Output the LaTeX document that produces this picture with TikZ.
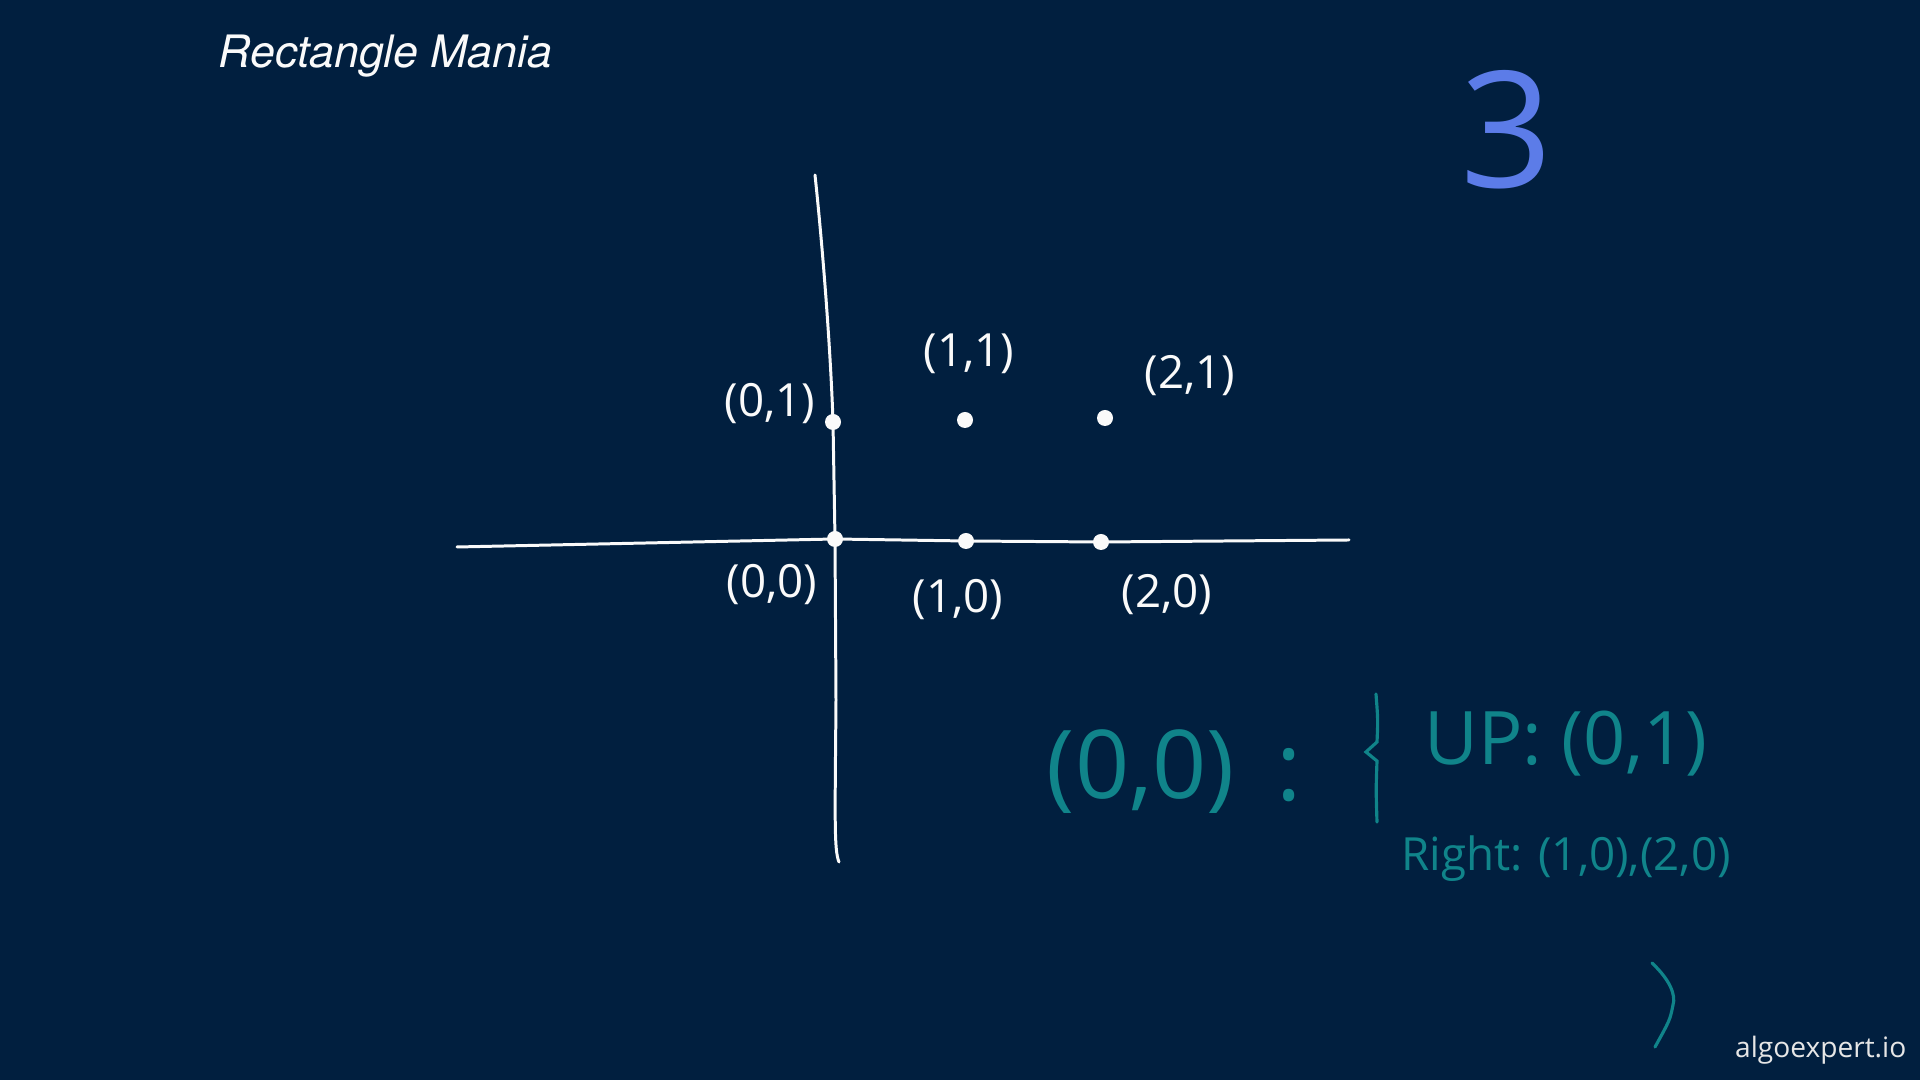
\documentclass[tikz,border=0pt]{standalone}
\usepackage{fontspec}
\setmainfont{Open Sans}
\newfontfamily\heros{TeX Gyre Heros}
\usepackage{tikz}
\usetikzlibrary{calc}
\definecolor{board}{RGB}{1,31,63}
\definecolor{chalk}{RGB}{250,250,250}
\definecolor{tealink}{RGB}{16,132,138}
\definecolor{blueink}{RGB}{92,124,232}
\tikzset{
  axis/.style    ={draw=chalk, line width=0.85pt, line cap=round},
  pt/.style      ={circle, fill=chalk, minimum size=0.16cm, inner sep=0pt},
  lbl/.style     ={text=chalk, font=\fontsize{13}{15}\selectfont, inner sep=0pt},
  tnote/.style   ={text=tealink, inner sep=0pt},
  tstroke/.style ={draw=tealink, line width=0.9pt, line cap=round},
}

\begin{document}
\begin{tikzpicture}[x=0.01cm, y=-0.01cm]
  % board
  \fill[board] (0,0) rectangle (1920,1080);
  \node[anchor=base west, inner sep=0pt, text=chalk,
        font=\heros\itshape\fontsize{12.7}{15}\selectfont] (title) at (218,68) {Rectangle Mania};
  \node[anchor=base east, inner sep=0pt, text=chalk!92!black,
        font=\fontsize{8}{10}\selectfont] (brand) at (1907,1058) {algoexpert.io};
  \node[text=blueink, inner sep=0pt, font=\fontsize{46}{50}\selectfont] (count) at (1507,130) {3};

  % the six points
  \node[pt] (p00) at (835,539)  {};
  \node[pt] (p10) at (966,541)  {};
  \node[pt] (p20) at (1101,542) {};
  \node[pt] (p01) at (833,422)  {};
  \node[pt] (p11) at (965,420)  {};
  \node[pt] (p21) at (1105,418) {};

  % axes
  \coordinate (xl)   at (457,547);
  \coordinate (xr)   at (1349,540);
  \coordinate (ytop) at (815,175);
  \coordinate (ybot) at (839,862);
  \draw[axis] (xl) -- (p00.center) -- (p10.center) -- (p20.center) -- (xr);
  \draw[axis] (ytop) .. controls (824,260) and (831,360) .. (p01.center)
              -- (p00.center) -- (836,700) .. controls (835,820) and (834,850) .. (ybot);

  % point labels
  \node[lbl] (l01) at (770,404)  {(0,1)};
  \node[lbl] (l11) at (969,354)  {(1,1)};
  \node[lbl] (l21) at (1190,376) {(2,1)};
  \node[lbl] (l00) at (772,585)  {(0,0)};
  \node[lbl] (l10) at (958,600)  {(1,0)};
  \node[lbl] (l20) at (1167,595) {(2,0)};

  % teal note: the map entry for (0,0)
  \node[tnote, font=\fontsize{27}{30}\selectfont] (key)   at (1141,772) {(0,0)};
  \node[tnote, font=\fontsize{27}{30}\selectfont] (colon) at (1289,775) {:};
  \node[tnote, font=\fontsize{21}{24}\selectfont] (up)    at (1566,744) {UP: (0,1)};
  \node[tnote, font=\fontsize{13}{16}\selectfont] (right) at (1566,859) {Right: (1,0),(2,0)};
  \coordinate (bo1) at (1376,694);
  \coordinate (bo2) at (1377,822);
  \draw[tstroke] (bo1) .. controls (1378,720) .. (1377,742)
                 -- (1366,752) -- (1377,761) .. controls (1376,790) .. (bo2);
  \coordinate (bc1) at (1652,963);
  \coordinate (bc2) at (1655,1047);
  \draw[tstroke] (bc1) .. controls (1670,980) and (1676,995) .. (1673,1005)
                 .. controls (1670,1020) .. (bc2);
\end{tikzpicture}
\end{document}
